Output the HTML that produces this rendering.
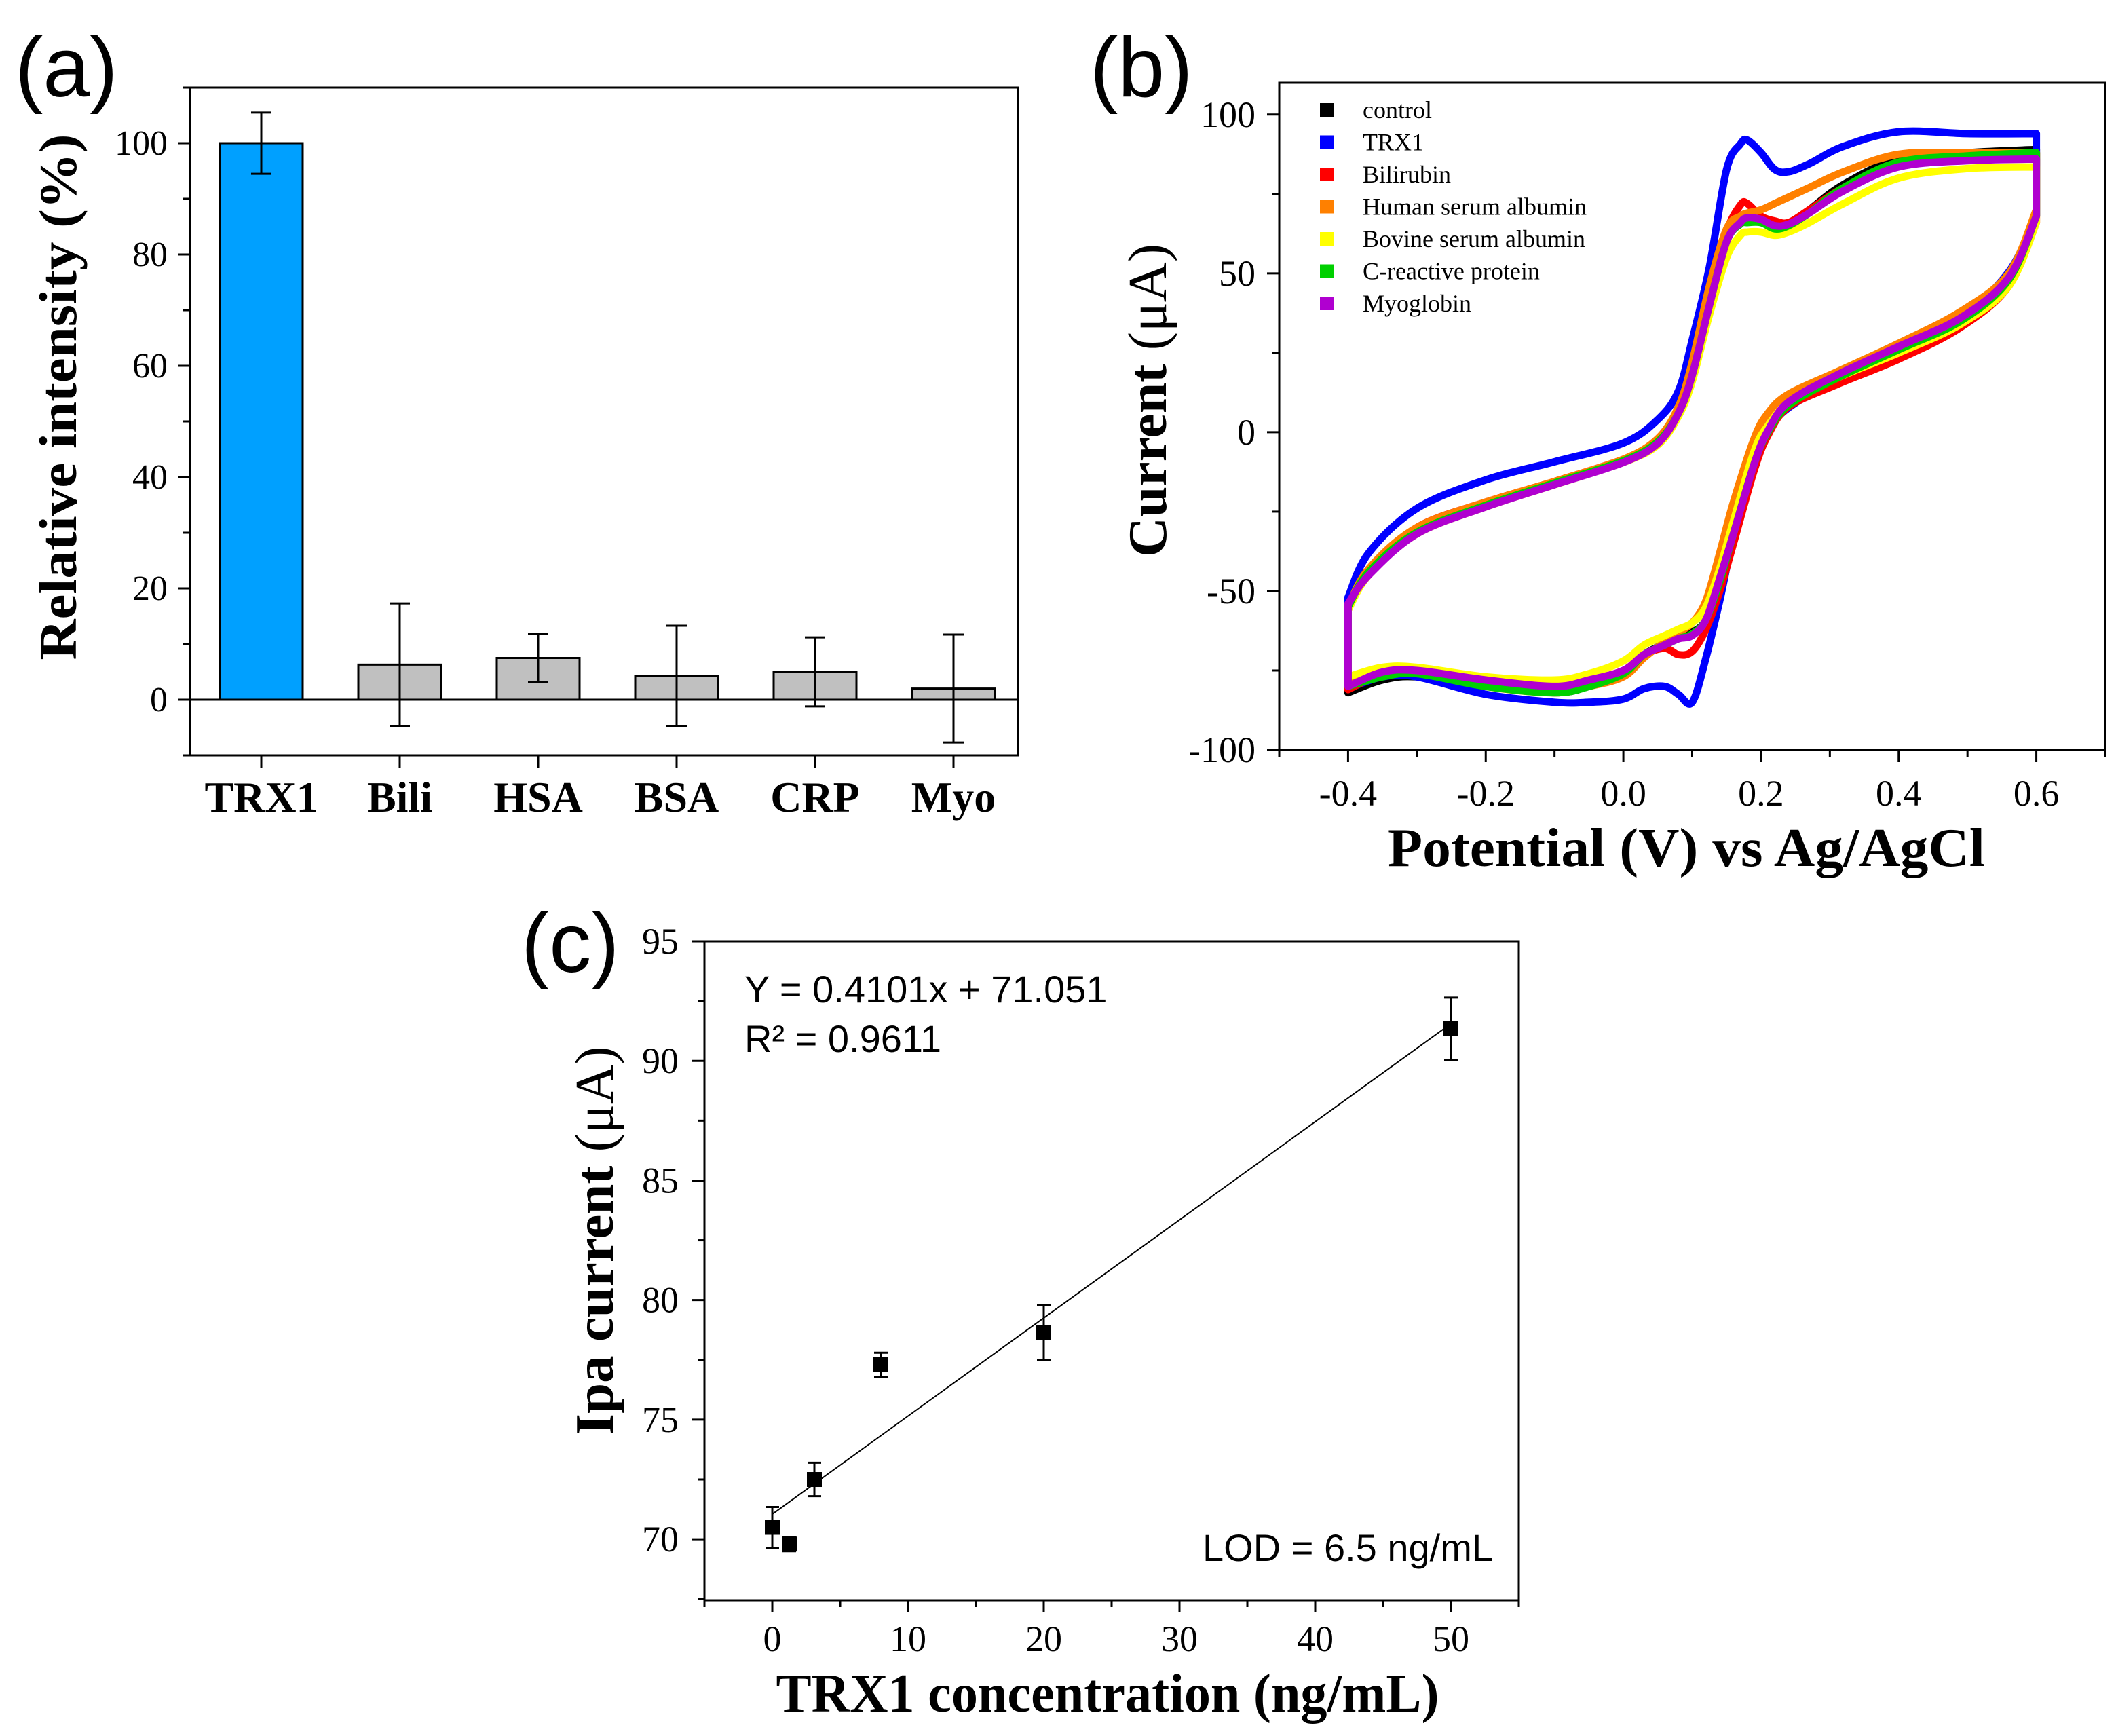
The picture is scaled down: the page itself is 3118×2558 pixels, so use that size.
<!DOCTYPE html>
<html><head><meta charset="utf-8"><style>
html,body{margin:0;padding:0;background:#fff;}
svg{display:block;}
text{font-family:"Liberation Serif",serif;fill:#000;}
.sans{font-family:"Liberation Sans",sans-serif;}
</style></head><body>
<svg id="fig" xmlns="http://www.w3.org/2000/svg" width="3118" height="2558" viewBox="0 0 3118 2558">
<rect width="3118" height="2558" fill="#fff"/>
<text class="sans" x="22" y="142" font-size="124" fill="#111">(a)</text>
<text class="sans" x="1606" y="142" font-size="124" fill="#111">(b)</text>
<text class="sans" x="768" y="1432" font-size="124" fill="#111">(c)</text>
<g id="pa"></g>
<g id="pb"></g>
<g id="pc"></g>
</svg>
<script>
// ---------- Panel A data ----------
const aCategories = ["TRX1","Bili","HSA","BSA","CRP","Myo"];
const aValues = [100, 6.3, 7.5, 4.3, 5.0, 2.0];
const aErrors = [5.5, 11, 4.3, 9.0, 6.2, 9.7];
const aYTicks = [0,20,40,60,80,100];
// ---------- Panel B data ----------
const bSeriesNames = ["control","TRX1","Bilirubin","Human serum albumin","Bovine serum albumin","C-reactive protein","Myoglobin"];
const bColors = ["#000000","#0000ff","#ff0000","#ff8000","#ffff00","#00d000","#b000d0"];
const bUpX = [-0.4,-0.37,-0.3,-0.2,-0.1,0,0.05,0.08,0.1,0.125,0.15,0.17,0.18,0.2,0.22,0.24,0.27,0.32,0.4,0.5,0.6];
const bDownX = [0.6,0.56,0.49,0.4,0.31,0.24,0.21,0.19,0.16,0.14,0.12,0.1,0.08,0.06,0.03,0,-0.05,-0.1,-0.2,-0.3,-0.35,-0.4];
const bUpControl = [-55,-44,-31,-22.5,-16,-9,-3,6,18,40,60,66,67,66.5,65,65.5,70,78,86,88,89];
const bUpTRX1 = [-52,-38,-24,-15,-9.3,-3.4,4,13,29,52,82.7,90.7,92,88,82.7,82,84.5,90,94.6,94,94];
const bUpBili = [-56,-44,-30,-22,-15.5,-8.5,-2.5,7,20,42,63,71.5,72,68,66.5,66,70,77,85,87,88];
const bUpHSA = [-55,-43,-30,-22,-15.5,-8.5,-2,8,22,46,64,68,69,70,72,74,77,82,87.5,88,88];
const bUpBSA = [-56,-45,-32,-23.5,-16.5,-9.5,-4,5,16,37,55,62,63,63,62,63,66,72,80,83,83.5];
const bUpCRP = [-55,-44,-31.5,-23,-16,-9,-3,6,18,40,60,65.5,66,66,64,65,69,77,85,87,88];
const bUpMyo = [-54,-45,-32,-23.5,-16.5,-9.5,-3.5,6,18,40,60,66,67.5,67,65,65.5,69,76,83.5,85.5,86];
const bDownControl = [68,48,35,26,17,8.5,0,-10,-32,-47,-59,-63,-64.5,-66.5,-70,-76,-80,-82,-80,-77,-78,-82];
const bDownTRX1 = [68,50.5,36,25.5,16.6,7.7,0.5,-10,-33,-53,-71,-85,-82.5,-80,-80.7,-84,-85,-85,-82.5,-77,-77,-80.7];
const bDownBili = [66,46,33,23,15,8,-1,-12,-35,-50,-62,-69,-70,-68,-70,-75,-78,-80,-79,-75,-76,-81];
const bDownHSA = [70,50,38,28,19,12,6,-2,-22,-38,-53,-60,-63,-66,-71,-77,-80,-82,-80,-75,-76,-78];
const bDownBSA = [66,46,34,25,17,9,2,-6,-28,-43,-55,-60,-62,-64,-67,-72,-76,-78,-77,-74,-74,-77];
const bDownCRP = [68,48,35,26,17,8.5,0,-10,-32,-47,-59,-63.5,-65,-67,-70,-76,-80,-82,-80,-76,-77,-80];
const bDownMyo = [68,48.7,36,27,18,9.5,0.5,-10,-32,-46,-59,-64,-65,-67,-70,-75,-78,-80,-78,-75,-75.5,-80];
const bXTicks = [-0.4,-0.2,0.0,0.2,0.4,0.6];
const bXTickLabels = ["-0.4","-0.2","0.0","0.2","0.4","0.6"];
const bYTicks = [-100,-50,0,50,100];
// ---------- Panel C data ----------
const cConc = [0, 1.25, 3.1, 8, 20, 50];
const cCurrent = [70.5, 69.8, 72.5, 77.3, 78.65, 91.35];
const cErr = [0.85, 0.3, 0.7, 0.5, 1.15, 1.3];
const cSlope = 0.4101;
const cIntercept = 71.051;
const cXTicks = [0,10,20,30,40,50];
const cYTicks = [70,75,80,85,90,95];

const NS = "http://www.w3.org/2000/svg";
function mk(parent, tag, attrs, txt){
  const e = document.createElementNS(NS, tag);
  for (const k in attrs) e.setAttribute(k, attrs[k]);
  if (txt !== undefined) e.textContent = txt;
  parent.appendChild(e);
  return e;
}
function smoothPath(p){
  let d = 'M' + p[0][0].toFixed(1) + ',' + p[0][1].toFixed(1);
  for (let i=0;i<p.length-1;i++){
    const p0=p[Math.max(0,i-1)], p1=p[i], p2=p[i+1], p3=p[Math.min(p.length-1,i+2)];
    const c1=[p1[0]+(p2[0]-p0[0])/6, p1[1]+(p2[1]-p0[1])/6];
    const c2=[p2[0]-(p3[0]-p1[0])/6, p2[1]-(p3[1]-p1[1])/6];
    d += ' C'+c1[0].toFixed(1)+','+c1[1].toFixed(1)+' '+c2[0].toFixed(1)+','+c2[1].toFixed(1)+' '+p2[0].toFixed(1)+','+p2[1].toFixed(1);
  }
  return d;
}

// ================= Panel A =================
(function(){
  const g = document.getElementById('pa');
  const L=280, R=1500, T=129, B=1113, y0=-10, y1=110;
  const ys = v => B - (v - y0) / (y1 - y0) * (B - T);
  const xs = i => 385 + i * 204;
  aValues.forEach((v,i)=>{
    const r = mk(g,'rect',{x:xs(i)-61,y:Math.min(ys(v),ys(0)),width:122,height:Math.abs(ys(0)-ys(v)),fill:i===0?'#00A0FF':'#C0C0C0',stroke:'#000','stroke-width':3});
    
    
  });
  mk(g,'line',{x1:L,x2:R,y1:ys(0),y2:ys(0),stroke:'#000','stroke-width':3});
  aValues.forEach((v,i)=>{
    const eg = mk(g,'g',{stroke:'#000','stroke-width':3});
    
    
    const x=xs(i), a=ys(v+aErrors[i]), b=ys(v-aErrors[i]);
    mk(eg,'line',{x1:x,x2:x,y1:a,y2:b});
    mk(eg,'line',{x1:x-15,x2:x+15,y1:a,y2:a});
    mk(eg,'line',{x1:x-15,x2:x+15,y1:b,y2:b});
  });
  const box = mk(g,'rect',{x:L,y:T,width:R-L,height:B-T,fill:'none',stroke:'#000','stroke-width':3});
  
  
  for (let v=-10; v<=110; v+=10){
    const major = aYTicks.includes(v);
    mk(g,'line',{x1:L,x2:L-(major?18:10),y1:ys(v),y2:ys(v),stroke:'#000','stroke-width':3});
  }
  aYTicks.forEach(v=>{
    const t = mk(g,'text',{x:247,y:ys(v)+17,'font-size':52,'text-anchor':'end'},String(v));
    
    
  });
  aCategories.forEach((c,i)=>{
    mk(g,'line',{x1:xs(i),x2:xs(i),y1:B,y2:B+18,stroke:'#000','stroke-width':3});
    const t = mk(g,'text',{x:xs(i),y:1196,'font-size':64,'font-weight':'bold','text-anchor':'middle'},c);
    
    
  });
  const yt = mk(g,'text',{x:0,y:0,'font-size':78,'font-weight':'bold','text-anchor':'middle',transform:'translate(112,585) rotate(-90)',textLength:775,lengthAdjust:'spacingAndGlyphs'},'Relative intensity (%)');
  
  
})();

// ================= Panel B =================
(function(){
  const g = document.getElementById('pb');
  const L=1885, R=3102, T=122, B=1105, x0=-0.5, x1=0.7, y0=-100, y1=110;
  const xs = v => L + (v - x0) / (x1 - x0) * (R - L);
  const ys = v => B - (v - y0) / (y1 - y0) * (B - T);
  const ups = [bUpControl,bUpTRX1,bUpBili,bUpHSA,bUpBSA,bUpCRP,bUpMyo];
  const downs = [bDownControl,bDownTRX1,bDownBili,bDownHSA,bDownBSA,bDownCRP,bDownMyo];
  [0,1,2,3,4,5,6].forEach(si=>{
    const up = bUpX.map((x,i)=>[xs(x), ys(ups[si][i])]);
    const dn = bDownX.map((x,i)=>[xs(x), ys(downs[si][i])]);
    let d = smoothPath(up);
    d += ' L' + dn[0][0].toFixed(1) + ',' + dn[0][1].toFixed(1);
    d += ' ' + smoothPath(dn).replace(/^M[^ ]+/, '');
    d += ' L' + up[0][0].toFixed(1) + ',' + up[0][1].toFixed(1);
    const p = mk(g,'path',{d:d,fill:'none',stroke:bColors[si],'stroke-width':11,'stroke-linejoin':'round','stroke-linecap':'round'});
    
    
  });
  const box = mk(g,'rect',{x:L,y:T,width:R-L,height:B-T,fill:'none',stroke:'#000','stroke-width':3});
  
  
  for (let v=-100; v<=100; v+=25){
    const major = bYTicks.includes(v);
    mk(g,'line',{x1:L,x2:L-(major?18:10),y1:ys(v),y2:ys(v),stroke:'#000','stroke-width':3});
  }
  bYTicks.forEach(v=>{
    const t = mk(g,'text',{x:1850,y:ys(v)+18,'font-size':54,'text-anchor':'end'},String(v));
    
    
  });
  for (let k=-5; k<=7; k++){
    const v=k/10, major = (k%2===0) && k>=-4 && k<=6;
    mk(g,'line',{x1:xs(v),x2:xs(v),y1:B,y2:B+(major?18:10),stroke:'#000','stroke-width':3});
  }
  bXTicks.forEach((v,i)=>{
    const t = mk(g,'text',{x:xs(v),y:1187,'font-size':54,'text-anchor':'middle'},bXTickLabels[i]);
    
    
  });
  bSeriesNames.forEach((n,i)=>{
    const lg = mk(g,'g',{});
    
    
    const y = 162 + i*47.5;
    mk(lg,'rect',{x:1945,y:y-10,width:20,height:20,fill:bColors[i]});
    mk(lg,'text',{x:2008,y:y+12,'font-size':36},n);
  });
  const xt = mk(g,'text',{x:2485,y:1276,'font-size':80,'font-weight':'bold','text-anchor':'middle',textLength:880,lengthAdjust:'spacingAndGlyphs'},'Potential (V) vs Ag/AgCl');
  
  
  const yt = mk(g,'text',{x:0,y:0,'font-size':80,'text-anchor':'middle',transform:'translate(1718,590) rotate(-90)',textLength:462,lengthAdjust:'spacingAndGlyphs'});
  
  
  mk(yt,'tspan',{'font-weight':'bold'},'Current ');
  mk(yt,'tspan',{},'(μA)');
})();

// ================= Panel C =================
(function(){
  const g = document.getElementById('pc');
  const L=1038, R=2238, T=1387, B=2358, x0=-5, x1=55, y0=67.45, y1=95;
  const xs = v => L + (v - x0) / (x1 - x0) * (R - L);
  const ys = v => B - (v - y0) / (y1 - y0) * (B - T);
  const fit = mk(g,'line',{x1:xs(0),y1:ys(cIntercept),x2:xs(50),y2:ys(cIntercept+cSlope*50),stroke:'#000','stroke-width':2});
  
  
  cConc.forEach((x,i)=>{
    const pg = mk(g,'g',{});
    
    
    const cx=xs(x), a=ys(cCurrent[i]+cErr[i]), b=ys(cCurrent[i]-cErr[i]);
    mk(pg,'line',{x1:cx,x2:cx,y1:a,y2:b,stroke:'#000','stroke-width':3});
    mk(pg,'line',{x1:cx-10,x2:cx+10,y1:a,y2:a,stroke:'#000','stroke-width':3});
    mk(pg,'line',{x1:cx-10,x2:cx+10,y1:b,y2:b,stroke:'#000','stroke-width':3});
    mk(pg,'rect',{x:cx-11,y:ys(cCurrent[i])-11,width:22,height:22,fill:'#000'});
  });
  const box = mk(g,'rect',{x:L,y:T,width:R-L,height:B-T,fill:'none',stroke:'#000','stroke-width':3});
  
  
  for (let v=67.5; v<=95; v+=2.5){
    const major = cYTicks.includes(v);
    mk(g,'line',{x1:L,x2:L-(major?18:10),y1:ys(v),y2:ys(v),stroke:'#000','stroke-width':3});
  }
  cYTicks.forEach(v=>{
    const t = mk(g,'text',{x:1000,y:ys(v)+18,'font-size':54,'text-anchor':'end'},String(v));
    
    
  });
  for (let v=-5; v<=55; v+=5){
    const major = cXTicks.includes(v);
    mk(g,'line',{x1:xs(v),x2:xs(v),y1:B,y2:B+(major?18:10),stroke:'#000','stroke-width':3});
  }
  cXTicks.forEach(v=>{
    const t = mk(g,'text',{x:xs(v),y:2433,'font-size':54,'text-anchor':'middle'},String(v));
    
    
  });
  const eq = mk(g,'text',{class:'sans',x:1097,y:1477,'font-size':56},'Y = 0.4101x + 71.051');
  
  
  const r2 = mk(g,'text',{class:'sans',x:1097,y:1550,'font-size':56},'R² = 0.9611');
  
  
  const lod = mk(g,'text',{class:'sans',x:2200,y:2300,'font-size':56,'text-anchor':'end'},'LOD = 6.5 ng/mL');
  
  
  const xt = mk(g,'text',{x:1632,y:2522,'font-size':80,'font-weight':'bold','text-anchor':'middle',textLength:977,lengthAdjust:'spacingAndGlyphs'},'TRX1 concentration (ng/mL)');
  
  
  const yt = mk(g,'text',{x:0,y:0,'font-size':80,'text-anchor':'middle',transform:'translate(903,1828) rotate(-90)',textLength:573,lengthAdjust:'spacingAndGlyphs'});
  
  
  mk(yt,'tspan',{'font-weight':'bold'},'Ipa current ');
  mk(yt,'tspan',{},'(μA)');
})();
</script>
</body></html>
